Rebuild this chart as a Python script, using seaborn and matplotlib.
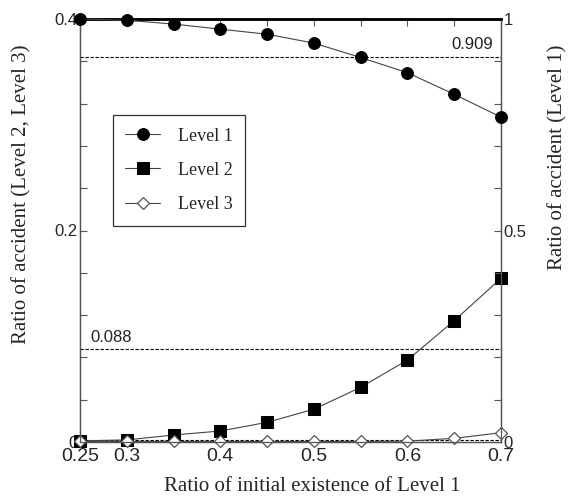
import matplotlib
matplotlib.use("Agg")
import matplotlib.pyplot as plt
import seaborn as sns
import numpy as np
import pandas as pd
from matplotlib.ticker import MultipleLocator, FixedLocator

# ---- data ----
x_ratio = [0.25, 0.30, 0.35, 0.40, 0.45, 0.50, 0.55, 0.60, 0.65, 0.70]
level1 = [1.000, 0.997, 0.988, 0.976, 0.964, 0.943, 0.909, 0.873, 0.822, 0.768]
level2 = [0.001, 0.002, 0.0066, 0.0104, 0.0186, 0.031, 0.0517, 0.0775, 0.1147, 0.1548]
level3 = [0.0005, 0.0005, 0.0005, 0.0005, 0.0005, 0.0005, 0.0005, 0.0008, 0.0035, 0.0088]
ref_level1 = 0.909
ref_level2 = 0.088
ref_zero = 0.0015
xtick_vals = [0.25, 0.3, 0.4, 0.5, 0.6, 0.7]
xtick_labels = ["0.25", "0.3", "0.4", "0.5", "0.6", "0.7"]
left_ticks = [0, 0.2, 0.4]
left_labels = ["0", "0.2", "0.4"]
right_ticks = [0, 0.5, 1]
right_labels = ["0", "0.5", "1"]

df = pd.DataFrame({"x": x_ratio, "l1": level1, "l2": level2, "l3": level3})

sns.set_style("ticks")
plt.rcParams["font.family"] = ["Liberation Sans", "DejaVu Sans"]

fig = plt.figure(figsize=(5.73, 5.01), dpi=100)
ax = fig.add_axes([80/573, 59/501, 421/573, 423/501])
ax2 = ax.twinx()

line_col = "#444444"
sns.lineplot(data=df, x="x", y="l2", ax=ax, color=line_col, linewidth=0.8,
             marker="s", markersize=9, markerfacecolor="black",
             markeredgecolor="black", label="Level 2", legend=False,
             zorder=4, clip_on=False)
sns.lineplot(data=df, x="x", y="l3", ax=ax, color=line_col, linewidth=0.8,
             marker="D", markersize=6.5, markerfacecolor="white",
             markeredgecolor="#555555", markeredgewidth=0.9,
             label="Level 3", legend=False, zorder=5, clip_on=False)
sns.lineplot(data=df, x="x", y="l1", ax=ax2, color=line_col, linewidth=0.8,
             marker="o", markersize=8.5, markerfacecolor="black",
             markeredgecolor="black", label="Level 1", legend=False,
             zorder=4, clip_on=False)

dash = (0, (3, 1.5))
ax.axhline(ref_level2, color="black", linestyle=dash, linewidth=0.8, zorder=2)
ax.axhline(ref_zero, color="black", linestyle=dash, linewidth=0.8, zorder=2)
ax2.axhline(ref_level1, color="black", linestyle=dash, linewidth=0.8, zorder=2)

ax.set_xlim(0.25, 0.70)
ax.set_ylim(0, 0.4)
ax2.set_ylim(0, 1)

# ticks
ax.xaxis.set_major_locator(FixedLocator(xtick_vals))
ax.set_xticklabels(xtick_labels, fontsize=14)
ax.xaxis.set_minor_locator(MultipleLocator(0.05))
ax.tick_params(axis="x", which="both", direction="in", top=True, length=5,
               width=0.8, color="#555555", pad=4)
ax.yaxis.set_major_locator(FixedLocator(left_ticks))
ax.set_yticklabels(left_labels, fontsize=12)
ax.yaxis.set_minor_locator(MultipleLocator(0.04))
ax.tick_params(axis="y", which="both", direction="in", length=5, width=0.8,
               color="#555555", pad=2)
ax2.yaxis.set_major_locator(FixedLocator(right_ticks))
ax2.set_yticklabels(right_labels, fontsize=12)
ax2.yaxis.set_minor_locator(MultipleLocator(0.1))
ax2.tick_params(axis="y", which="both", direction="in", length=5, width=0.8,
                color="#555555", pad=2)

for a in (ax, ax2):
    for s in ("left", "right", "bottom"):
        a.spines[s].set_color("#555555")
        a.spines[s].set_linewidth(0.9)
    a.spines["top"].set_color("black")
    a.spines["top"].set_linewidth(1.8)

serif = ["Liberation Serif", "DejaVu Serif"]
ax.set_xlabel("Ratio of initial existence of Level 1", family=serif,
              fontsize=15)
ax.xaxis.set_label_coords(0.552, -0.083)
ax.set_ylabel("Ratio of accident (Level 2, Level 3)", family=serif,
              fontsize=15)
ax.yaxis.set_label_coords(-0.116, 0.586)
ax2.set_ylabel("Ratio of accident (Level 1)", family=serif, fontsize=15)
ax2.yaxis.set_label_coords(1.112, 0.674)

ax.text(0.2607, ref_level2 + 0.004, "0.088", fontsize=12, color="#222222",
        ha="left", va="bottom")
ax2.text(0.6914, ref_level1 + 0.012, "0.909", fontsize=12, color="#222222",
         ha="right", va="bottom")

h1, l1 = ax2.get_legend_handles_labels()
h2, l2 = ax.get_legend_handles_labels()
leg = ax2.legend(h1 + h2, l1 + l2, loc="upper left",
                 bbox_to_anchor=(0.078, 0.773), frameon=True, fancybox=False,
                 edgecolor="black", prop={"family": serif, "size": 13},
                 borderpad=0.7, labelspacing=0.95, handlelength=1.9,
                 handletextpad=1.0, borderaxespad=0)
leg.get_frame().set_linewidth(0.9)
leg.set_zorder(10)

fig.savefig("out.png", dpi=100)
